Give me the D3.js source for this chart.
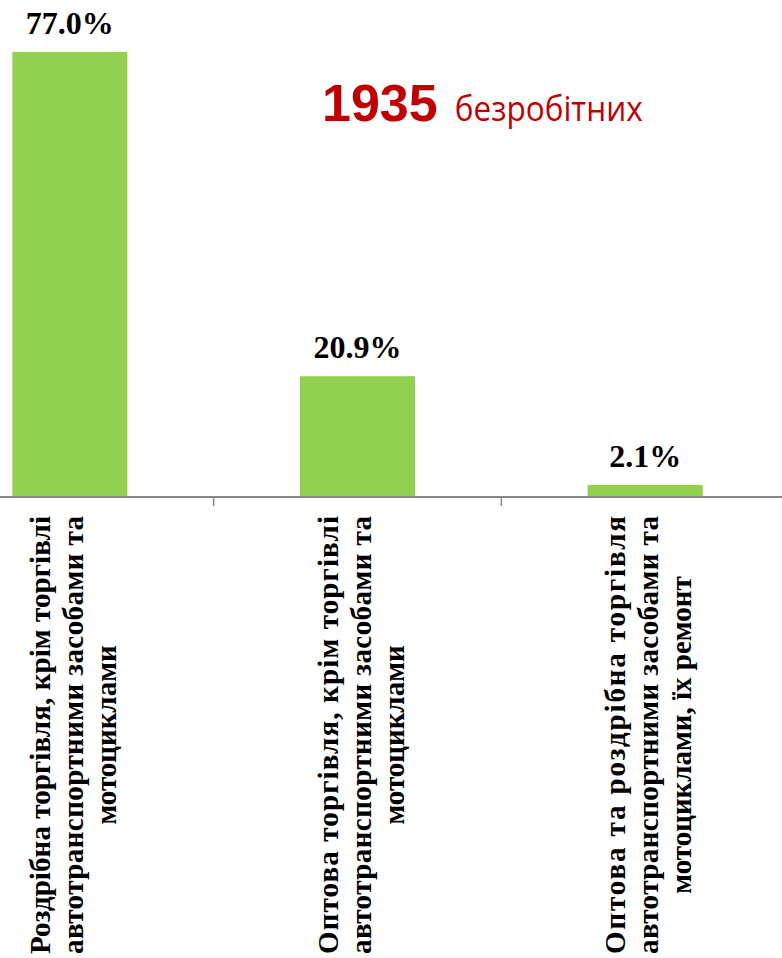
<!DOCTYPE html>
<html>
<head>
<meta charset="utf-8">
<script src="https://cdn.jsdelivr.net/npm/d3@7"></script>
<style>
  body { margin: 0; background: #fff; }
  svg { display: block; }
</style>
</head>
<body>
<div id="chart-area"></div>
<script>
const categories = [
  ["Роздрібна торгівля, крім торгівлі", "автотранспортними засобами та", "мотоциклами"],
  ["Оптова торгівля, крім торгівлі", "автотранспортними засобами та", "мотоциклами"],
  ["Оптова та роздрібна торгівля", "автотранспортними засобами та", "мотоциклами, їх ремонт"]
]
const values = [77.0, 20.9, 2.1]
const total = "1935"
const totalWord = "безробітних"

const W = 782, H = 958
const BASE = 497

const svg = d3.select("#chart-area").append("svg")
  .attr("width", W)
  .attr("height", H)

const idx = d3.range(values.length)

// band for the category slots (chart was cut off at both sides)
const slot = d3.scaleBand()
  .domain(idx)
  .range([-74, 789])
  .padding(0)

const x = d3.scaleBand()
  .domain(idx)
  .range([-74, 789])
  .paddingInner(0.6)
  .paddingOuter(0.3)

const y = d3.scaleLinear()
  .domain([0, 77])
  .range([BASE, 52])

// bars
svg.selectAll("rect.bar")
  .data(values)
  .enter().append("rect")
  .attr("class", "bar")
  .attr("x", (d, i) => x(i))
  .attr("width", x.bandwidth())
  .attr("y", d => y(d))
  .attr("height", d => BASE - y(d))
  .attr("fill", "#92d050")

// value labels
svg.selectAll("text.val")
  .data(values)
  .enter().append("text")
  .attr("class", "val")
  .attr("x", (d, i) => x(i) + x.bandwidth() / 2)
  .attr("y", d => y(d) - 18)
  .attr("text-anchor", "middle")
  .attr("font-family", "'Liberation Serif', 'Times New Roman', serif")
  .attr("font-weight", "bold")
  .attr("font-size", "32px")
  .text(d => d.toFixed(1) + "%")

// x axis line + ticks between categories
const axis = svg.append("g")
  .attr("transform", `translate(0, ${BASE})`)
axis.append("line")
  .attr("x1", 0).attr("x2", W)
  .attr("stroke", "#868686")
  .attr("stroke-width", 2)
axis.selectAll("line.tick")
  .data(idx.slice(1))
  .enter().append("line")
  .attr("class", "tick")
  .attr("x1", d => slot(d)).attr("x2", d => slot(d))
  .attr("y1", 0).attr("y2", 9)
  .attr("stroke", "#868686")
  .attr("stroke-width", 1.5)

// rotated category labels, justified lines except the last
const labels = svg.selectAll("g.cat")
  .data(categories)
  .enter().append("g")
  .attr("class", "cat")
  .attr("transform", (d, i) => `translate(${slot(i) + slot.bandwidth() / 2}, 0) rotate(-90)`)

labels.each(function(lines) {
  const g = d3.select(this)
  lines.forEach((line, j) => {
    const last = j === lines.length - 1
    const t = g.append("text")
      .attr("y", -20 + j * 33)
      .attr("font-family", "'Liberation Serif', 'Times New Roman', serif")
      .attr("font-weight", "bold")
      .attr("font-size", "29px")
      .text(line)
    if (last) {
      t.attr("x", -735).attr("text-anchor", "middle")
    } else {
      t.attr("x", -954).attr("text-anchor", "start")
        .attr("textLength", 438)
        .attr("lengthAdjust", "spacing")
    }
  })
})

// total unemployed caption
const cap = svg.append("text")
  .attr("x", 322)
  .attr("y", 121)
  .attr("fill", "#c00000")
cap.append("tspan")
  .attr("font-family", "'Liberation Sans', Arial, sans-serif")
  .attr("font-weight", "bold")
  .attr("font-size", "52px")
  .text(total)
cap.append("tspan")
  .attr("dx", 17)
  .attr("font-family", "'Open Sans', sans-serif")
  .attr("font-size", "35px")
  .attr("textLength", 188)
  .attr("lengthAdjust", "spacingAndGlyphs")
  .text(totalWord)
</script>
</body>
</html>
